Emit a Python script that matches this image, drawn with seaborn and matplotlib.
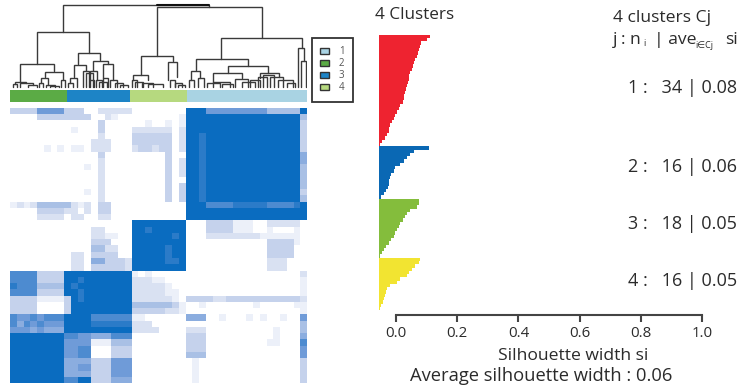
import seaborn as sns
import numpy as np
import matplotlib.pyplot as plt
from matplotlib.colors import LinearSegmentedColormap, ListedColormap
from matplotlib.patches import Patch

W, H = 753, 390

# co-clustering matrix, coarse reading of the picture (0 white .. 9 full blue)
# each row: leaves of clusters 2+3 | cluster 4 | cluster 1
heat_rows = [
    "333366663330022222 00000000 999666666666444449",
    "000033333333002100 00000001 999999999999999994",
    "000000000000030000 00100101 999999999999999993",
    "000000000100030000 22222202 999999999999999993",
    "000000000000020000 33333302 998999999999999993",
    "000000000000222000 33333302 998999999999999993",
    "000001010110222000 23323302 998999999999999993",
    "000000000000030000 00000300 998999999999999995",
    "000000000000020000 00000302 998999999999999995",
    "000000000001020000 00000302 998999999999999994",
    "000000000000020000 00000302 998999999999999994",
    "000000000000020000 00000300 998999999999999994",
    "000000000000020000 00000303 998999999999999994",
    "000000000001020000 00000303 998999999999999993",
    "000000000000020000 00000303 998999999999999994",
    "121244444212033000 00000000 999777788888777789",
    "000033332202033000 00000000 999999999999999999",
    "000022220220022000 00000000 999999999999999999",
    "000000000000000000 99999999 000333311100222220",
    "000000000000220000 99899999 000333311100100010",
    "000000000000221100 99999989 000222222221111110",
    "000000000000333000 99999999 000000000000333310",
    "000000000000442200 99999899 000000000000333300",
    "000000000220333300 99999899 000000000000333300",
    "000000000220553332 99999889 000000000000222000",
    "000000000220333332 99999999 000000000000222000",
    "777733339999999999 10100000 000000000000000002",
    "777733339989999999 22211000 000000000000000001",
    "877744449899999999 22222100 000000000000000001",
    "777733339989999999 22222110 000000000000000001",
    "333311113989999999 22222210 333322333333333332",
    "333300003999999999 44444431 001000000010000011",
    "333300003999999999 33333221 000000000000000001",
    "766767779999777777 11000000 555001000101001006",
    "757676669999888888 22200000 000000000000000004",
    "666565559999999999 22220000 222000000000010004",
    "999999997766555777 00000000 333000000000010005",
    "999999996666111444 00000000 333000000000110007",
    "999999996677000333 00000000 333000000000000006",
    "999999996677000333 00000000 444000000000000006",
    "999999995555333666 00000000 010000000000000003",
    "999999995566333666 00000000 010000000000000003",
    "999999995555333666 00000000 010000000000000003",
    "999999997799333555 00000000 010000000000000003",
]

# dendrogram merges: left x, right x, top, left bottom, right bottom
# (x along the leaves, y is depth from the top of the tree)
merges = [
    (190, 628, 15, 97, 20), (470, 785, 20, 168, 113),
    (110, 268, 97, 192, 160), (60, 162, 192, 245, 212), (135, 188, 215, 232, 240),
    (235, 300, 160, 192, 180), (222, 258, 195, 230, 212), (280, 325, 182, 212, 192),
    (308, 338, 192, 235, 240), (270, 292, 212, 240, 240),
    (422, 518, 168, 225, 182), (503, 532, 185, 240, 230), (400, 445, 225, 240, 240),
    (663, 905, 113, 178, 145), (893, 912, 145, 262, 183), (903, 917, 183, 262, 262),
    (587, 743, 178, 210, 197), (572, 600, 212, 240, 235), (683, 805, 198, 218, 218),
    (640, 725, 218, 245, 235), (780, 838, 218, 235, 232),
    (38, 52, 252, 262, 262), (45, 78, 245, 252, 250), (60, 100, 248, 262, 256),
    (85, 110, 256, 262, 262), (122, 145, 235, 250, 255), (118, 130, 250, 262, 262),
    (138, 165, 255, 262, 262), (150, 178, 258, 262, 262), (183, 195, 240, 262, 262),
    (210, 232, 235, 250, 262), (205, 220, 250, 262, 262), (248, 268, 212, 262, 262),
    (258, 280, 218, 262, 262), (270, 282, 240, 262, 262), (288, 305, 240, 262, 262),
    (298, 320, 245, 262, 262), (308, 325, 235, 262, 262), (330, 350, 240, 262, 262),
    (345, 370, 250, 262, 262), (360, 385, 255, 262, 262),
    (395, 412, 240, 262, 262), (405, 430, 245, 262, 262), (425, 460, 248, 262, 262),
    (445, 490, 252, 262, 262), (510, 525, 240, 262, 262), (525, 545, 248, 262, 262),
    (535, 555, 255, 262, 262), (568, 582, 240, 262, 262), (595, 612, 235, 262, 262),
    (620, 660, 248, 262, 262), (640, 690, 245, 262, 262), (665, 700, 252, 262, 262),
    (705, 745, 238, 262, 262), (725, 765, 245, 262, 262), (750, 780, 240, 262, 262),
    (775, 800, 232, 262, 262), (790, 822, 225, 262, 262), (810, 850, 232, 262, 262),
    (835, 880, 240, 262, 262), (860, 885, 248, 262, 262),
]

# leaves per group, left to right along the colour strip
group_sizes = [16, 18, 16, 34]
group_colors = ['#5bab45', '#1d84c6', '#b6d97f', '#a9d3e3']
legend_colors = ['#a9d3e3', '#5bab45', '#1d84c6', '#b6d97f']
legend_labels = ['1', '2', '3', '4']

# silhouette bars, tip of every bar on the printed axis
sil_c1 = [0.112, 0.101, 0.083, 0.079, 0.074, 0.071, 0.069, 0.063, 0.060, 0.056, 0.052, 0.047,
          0.044, 0.041, 0.038, 0.036, 0.033, 0.031, 0.027, 0.025, 0.022, 0.014, 0.009, 0.003,
          -0.002, -0.007, -0.013, -0.018, -0.022, -0.024, -0.029, -0.035, -0.045, -0.051]
sil_c2 = [0.107, 0.058, 0.047, 0.036, 0.025, 0.014, -0.002, -0.007, -0.015, -0.018, -0.022,
          -0.024, -0.026, -0.033, -0.040, -0.048]
sil_c3 = [0.074, 0.074, 0.069, 0.047, 0.036, 0.028, 0.022, 0.014, 0.009, 0.003, -0.002, -0.007,
          -0.015, -0.022, -0.033, -0.040, -0.045, -0.051]
sil_c4 = [0.079, 0.074, 0.063, 0.052, 0.041, 0.036, 0.014, 0.003, -0.018, -0.029, -0.033,
          -0.037, -0.040, -0.043, -0.048, -0.051]
sil_colors = ['#ee2330', '#0a68b4', '#84bd3c', '#f2e431']
sil_left = -0.055
sil_ticks = [0.0, 0.2, 0.4, 0.6, 0.8, 1.0]

cluster_rows = ['1 :   34 | 0.08', '2 :   16 | 0.06', '3 :   18 | 0.05', '4 :   16 | 0.05']
cluster_rows_y = [88, 167, 224, 281]


def add_axes_px(fig, x0, y0, x1, y1):
    return fig.add_axes([x0 / W, 1 - y1 / H, (x1 - x0) / W, (y1 - y0) / H])


def put_text(fig, x, y, s, size=10.5, ha='left'):
    fig.text(x / W, 1 - y / H, s, fontsize=size, ha=ha, va='center', color='#2b2b2b')


sns.set_theme(style='white')
plt.rcParams['font.family'] = ['Open Sans', 'DejaVu Sans']
fig = plt.figure(figsize=(W / 100, H / 100), dpi=100)

# dendrogram
ax_tree = add_axes_px(fig, 10, 0, 307, 90)
for xl, xr, top, yl, yr in merges:
    ax_tree.plot([xl, xl, xr, xr], [yl, top, top, yr], color='#3a3a3a', lw=1.0, solid_joinstyle='miter')
ax_tree.plot([470, 628], [15, 15], color='#111111', lw=1.5)
ax_tree.set_xlim(30, 921)
ax_tree.set_ylim(270, 0)
ax_tree.axis('off')

# group colour strip
strip = np.repeat(np.arange(len(group_sizes)), group_sizes).reshape(1, -1)
ax_strip = add_axes_px(fig, 10, 90, 307, 102)
sns.heatmap(strip, ax=ax_strip, cmap=ListedColormap(group_colors), cbar=False,
            xticklabels=False, yticklabels=False)

# co-clustering heatmap
matrix = np.array([[int(c) for c in row.replace(' ', '')] for row in heat_rows]) / 9
blues = LinearSegmentedColormap.from_list('co', ['#ffffff', '#c5d2ec', '#6f9bd8', '#0a6cc0'])
ax_heat = add_axes_px(fig, 10, 108, 307, 383)
sns.heatmap(matrix, ax=ax_heat, cmap=blues, vmin=0, vmax=1, cbar=False,
            xticklabels=False, yticklabels=False)

# legend
handles = [Patch(facecolor=c, edgecolor='#333333', lw=1.0) for c in legend_colors]
leg = fig.legend(handles, legend_labels, loc='upper left', bbox_to_anchor=(312 / W, 1 - 38 / H),
                 fontsize=7, frameon=True, fancybox=False, edgecolor='#333333', framealpha=1,
                 borderaxespad=0, handlelength=0.9, handleheight=0.7, handletextpad=1.0,
                 labelspacing=0.1, borderpad=0.87, labelcolor='#555555')
leg.get_frame().set_linewidth(1.3)

# silhouette
ax_sil = add_axes_px(fig, 370, 30, 710, 315)
tips = sil_c1 + sil_c2 + sil_c3 + sil_c4
sizes = [len(sil_c1), len(sil_c2), len(sil_c3), len(sil_c4)]
colors = np.repeat(sil_colors, sizes)
pos = np.arange(len(tips))
ax_sil.barh(pos, np.array(tips) - sil_left, left=sil_left, height=1.0, color=colors, linewidth=0)
ax_sil.set_xlim((370 - 396) / 306, (710 - 396) / 306)
ax_sil.set_ylim(len(tips) + 1.0, -2.0)
ax_sil.set_yticks([])
ax_sil.set_xticks(sil_ticks)
ax_sil.set_xticklabels([f'{t:.1f}' for t in sil_ticks], fontsize=10.8, color='#2b2b2b')
ax_sil.tick_params(axis='x', length=5, width=1.5, color='#444444', pad=3, bottom=True)
sns.despine(ax=ax_sil, left=True)
ax_sil.spines['bottom'].set_bounds(0, 1)
ax_sil.spines['bottom'].set_color('#444444')
ax_sil.spines['bottom'].set_linewidth(1.5)
ax_sil.patch.set_alpha(0)

put_text(fig, 375, 15, '4 Clusters', 12.3)
put_text(fig, 613, 18, '4 clusters Cj', 12.6)
put_text(fig, 613, 40, 'j : n', 12.6)
put_text(fig, 643, 44, 'i', 6.5)
put_text(fig, 654, 40, '| ave', 12.6)
put_text(fig, 695, 45, 'i∈Cj', 6.5)
put_text(fig, 725, 40, 'si', 12.6)
for s, y in zip(cluster_rows, cluster_rows_y):
    put_text(fig, 628, y, s, 13)
put_text(fig, 498, 356, 'Silhouette width si', 12.6)
put_text(fig, 410, 376, 'Average silhouette width : 0.06', 13.2)

fig.savefig('out.png', dpi=100, facecolor='white')
plt.close(fig)
